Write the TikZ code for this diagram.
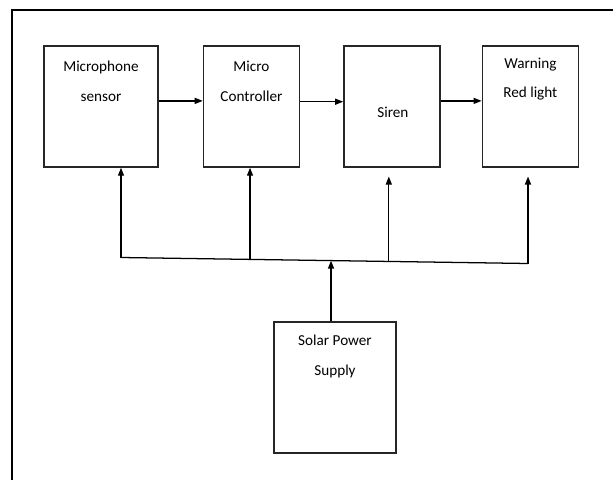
\documentclass[tikz,border=0pt]{standalone}
\usepackage{fontspec}
\setmainfont{Carlito}
\usetikzlibrary{arrows.meta,positioning,calc}

\begin{document}
\begin{tikzpicture}[x=0.025cm, y=-0.025cm,
    box/.style={draw=black!85, line width=1pt, minimum width=2.4cm, minimum height=3.025cm, inner sep=0pt},
    lbl/.style={align=center, font=\fontsize{10.8}{21}\selectfont, inner sep=0pt},
    arr/.style={-{Triangle[length=0.2cm, width=0.15cm]}, line width=0.9pt},
    wire/.style={line width=0.9pt}
  ]
    \useasboundingbox (0,0) rectangle (613,480);
    % outer frame, open at right and bottom
    \draw[line width=1.5pt] (12,490) -- (12,10) -- (620,10);

    \node[box, minimum width=2.85cm] (mic) at (101,106.5) {};
    \node[box, right=1.1cm of mic] (ctrl) {};
    \node[box, right=1.075cm of ctrl] (siren) {};
    \node[box, right=1.025cm of siren] (warn) {};
    \node[box, minimum width=3.05cm, minimum height=3.275cm] (solar) at (335,387.5) {};

    \node[lbl] (micT) at ($(mic.north)+(0,36)$) {Microphone\\sensor};
    \node[lbl] (ctrlT) at ($(ctrl.north)+(0,36)$) {Micro\\Controller};
    \node[lbl] (sirenT) at ($(siren.center)+(1,6)$) {Siren};
    \node[lbl] (warnT) at ($(warn.north)+(0,34)$) {Warning\\Red light};
    \node[lbl] (solarT) at ($(solar.north)+(0,35)$) {Solar Power\\Supply};

    \draw[arr] ([yshift=0.14cm]mic.east) -- ([yshift=0.14cm]ctrl.west);
    \draw[arr] ([yshift=0.12cm]ctrl.east) -- ([yshift=0.12cm]siren.west);
    \draw[arr] ([yshift=0.14cm]siren.east) -- ([yshift=0.14cm]warn.west);

    % power bus
    \coordinate (busL) at (121,257.5);
    \coordinate (busR) at (528,263.5);
    \coordinate (jc) at ($(busL)!0.317!(busR)$);
    \coordinate (js) at ($(busL)!0.658!(busR)$);
    \coordinate (jp) at ($(busL)!0.516!(busR)$);
    \draw[wire] (busL) -- (busR);
    \draw[arr] (busL) -- (busL |- mic.south);
    \draw[arr] (jc) -- (jc |- ctrl.south);
    \draw[arr, shorten >=0.22cm] (js) -- (js |- siren.south);
    \draw[arr, shorten >=0.22cm] (busR) -- (busR |- warn.south);
    \draw[arr] (jp |- solar.north) -- (jp);
\end{tikzpicture}
\end{document}
